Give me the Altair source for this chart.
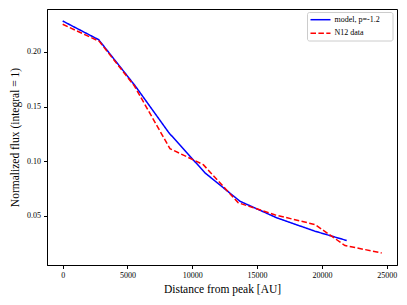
import altair as alt
import pandas as pd

model_x = [0, 2778, 5579, 8200, 10980, 13681, 16512, 19468, 21914]
model_y = [0.2283, 0.2112, 0.1692, 0.1260, 0.0894, 0.0634, 0.0483, 0.0360, 0.0275]
data_x = [0, 2824, 5525, 8279, 10849, 13549, 16410, 19468, 21783, 24614]
data_y = [0.2253, 0.2097, 0.1690, 0.1115, 0.0969, 0.0620, 0.0509, 0.0421, 0.0229, 0.0161]
series = ["model, p=-1.2", "N12 data"]
colors = ["#0000ff", "#ff0000"]
x_ticks = [0, 5000, 10000, 15000, 20000, 25000]
y_ticks = [0.05, 0.10, 0.15, 0.20]

rows = []
for xv, yv in zip(model_x, model_y):
    rows.append({"x": xv, "y": yv, "s": series[0]})
for xv, yv in zip(data_x, data_y):
    rows.append({"x": xv, "y": yv, "s": series[1]})
df = pd.DataFrame(rows)

FONT = "Liberation Serif"

lines = alt.Chart(df).mark_line(strokeWidth=1.5).encode(
    x=alt.X("x:Q", scale=alt.Scale(domain=[-1211, 25795], nice=False, zero=False),
            axis=alt.Axis(values=x_ticks, title="Distance from peak [AU]", format="d",
                          grid=False, tickSize=3.5, labelPadding=3, titlePadding=4)),
    y=alt.Y("y:Q", scale=alt.Scale(domain=[0.0051, 0.2393], nice=False, zero=False),
            axis=alt.Axis(values=y_ticks, title="Normalized flux (integral = 1)", format=".2f",
                          grid=False, tickSize=3.5, labelPadding=3, titlePadding=6)),
    color=alt.Color("s:N", scale=alt.Scale(domain=series, range=colors), legend=None),
    strokeDash=alt.StrokeDash("s:N", scale=alt.Scale(domain=series, range=[[1, 0], [5.5, 2.4]]),
                              legend=None),
)

# manual legend (decoration)
leg_df = pd.DataFrame({"s": series, "row": [0, 1]})
box = alt.Chart(pd.DataFrame({"a": [0]})).mark_rect(
    fill="white", stroke="#cccccc", strokeWidth=1, cornerRadius=2
).encode(x=alt.value(260.5), x2=alt.value(346), y=alt.value(3.5), y2=alt.value(32))

leg_blue = alt.Chart(pd.DataFrame({"a": [0]})).mark_rule(
    color=colors[0], strokeWidth=1.5
).encode(x=alt.value(263.5), x2=alt.value(283.5), y=alt.value(10.7))
leg_red = alt.Chart(pd.DataFrame({"a": [0]})).mark_rule(
    color=colors[1], strokeWidth=1.5, strokeDash=[5.5, 2.4]
).encode(x=alt.value(263.5), x2=alt.value(283.5), y=alt.value(24.3))
leg_t1 = alt.Chart(pd.DataFrame({"t": [series[0]]})).mark_text(
    align="left", baseline="middle", font=FONT, fontSize=8, color="black"
).encode(x=alt.value(287.5), y=alt.value(10.5), text="t:N")
leg_t2 = alt.Chart(pd.DataFrame({"t": [series[1]]})).mark_text(
    align="left", baseline="middle", font=FONT, fontSize=8, color="black"
).encode(x=alt.value(287.5), y=alt.value(24.1), text="t:N")

chart = alt.layer(lines, box, leg_blue, leg_red, leg_t1, leg_t2).properties(
    width=350, height=256,
    autosize=alt.AutoSizeParams(type="none"),
    padding={"left": 39, "top": 1, "right": 2, "bottom": 32},
).configure_view(
    stroke="black", strokeWidth=1
).configure_axis(
    domainColor="black", tickColor="black", labelColor="#000", titleColor="#000",
    labelFont=FONT, titleFont=FONT, labelFontSize=8, titleFontSize=11.5,
    titleFontWeight="normal", domainWidth=1, tickWidth=1
)

chart.save("out.html", embed_options={"renderer": "svg", "actions": False})
